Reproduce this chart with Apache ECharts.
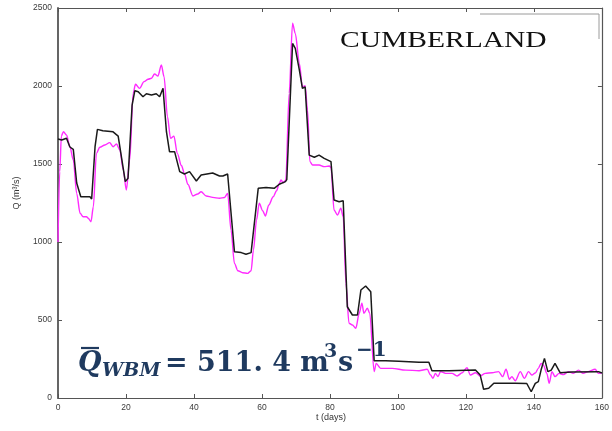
<!DOCTYPE html>
<html><head><meta charset="utf-8">
<script src="https://cdn.jsdelivr.net/npm/echarts@6/dist/echarts.min.js"></script>
<style>html,body{margin:0;padding:0;background:#fff}#c{width:612px;height:431px}</style>
</head><body><div id="c"></div>
<script>
// ---- data (t in days, Q in m3/s) ----
const tBlack = [0,1.1,2.5,3.5,4.5,5.5,6.7,9.4,9.9,10.9,11.6,13.2,16.2,17.7,18.2,19.8,20.6,21.8,22.6,23.6,25,26,27.5,28.9,29.9,30.9,31.9,32.8,34.3,35.8,37.2,38.7,40.7,42.1,45.5,47.5,48.5,49.9,51.9,53.9,55.3,56.8,58.9,61.2,63.6,65.1,66.9,67.3,69,69.8,71,71.9,72.7,73.9,75.4,76.8,78.3,80.3,81.2,82.7,83.9,85.1,86.6,88.1,89.1,90.5,92,93,96.4,100.3,106.2,109.1,110,115,122.8,124.2,125.2,126.7,128.2,134.5,137.9,139.2,140.4,141.3,142.1,143.1,144.1,145.1,146.2,147.7,151.1,159,160];
const qBlack = [1660,1654,1665,1609,1594,1378,1290,1290,1276,1611,1722,1713,1706,1679,1670,1387,1408,1878,1970,1963,1931,1950,1942,1950,1931,1985,1707,1579,1579,1451,1436,1451,1391,1430,1442,1423,1423,1436,938,932,921,932,1344,1350,1344,1370,1387,1400,2273,2241,2102,1985,1995,1557,1543,1557,1536,1515,1269,1258,1265,585,532,532,692,718,681,239,239,235,229,229,175,175,179,147,56,62,94,94,93,40,94,105,179,254,169,179,222,162,167,169,160];
const tMag = [0,0.5,1,1.6,2.5,3.5,4.5,5.5,6.5,7.4,8.4,8.9,9.7,10.4,11.3,12.3,13.8,15.2,16.2,17.2,18.2,19.2,20.1,21.1,22.1,22.8,24,25.3,26.5,27.5,28.4,29.4,30.4,31.2,32.2,33.1,34.1,35.1,36.3,37.2,38.2,39.7,41.1,42.1,43.6,45.5,47.5,49,49.9,50.9,51.9,52.9,54.3,55.8,56.8,57.5,58.4,59.2,60.2,61,62,63.3,64.3,65.1,65.6,66.3,67,68,69,69.8,71,71.9,72.7,73.4,74.1,74.9,76.8,78.3,79.8,80.3,81.2,82.2,83.2,83.9,84.7,85.6,86.6,87.6,88.6,89.4,90,91,91.7,93,93.6,94.9,98.3,102.3,106.2,108.6,109.6,110.3,111,111.8,112.5,114,115.9,117.4,118.9,120.3,121.3,122.8,124.2,125.7,127.7,129.6,130.8,131.8,132.8,133.5,134.5,136,137.2,138.4,139.4,140.4,141.3,142.1,142.8,143.8,144.5,145.3,146.2,147.4,148.7,150.1,151.6,153.1,154.5,156,158,159,160];
const qMag = [1000,1450,1680,1707,1686,1611,1526,1312,1184,1162,1162,1152,1130,1226,1568,1607,1622,1637,1611,1628,1590,1462,1333,1526,1953,2011,1985,2028,2043,2050,2077,2064,2135,2060,1803,1665,1679,1568,1490,1440,1370,1295,1308,1322,1295,1286,1280,1285,1312,1077,863,816,803,799,816,949,1141,1248,1201,1167,1237,1290,1329,1376,1397,1380,1397,1953,2402,2337,2145,1995,2002,1846,1515,1494,1494,1483,1487,1479,1205,1173,1216,1162,735,479,468,447,543,607,543,575,543,169,222,190,190,179,175,184,147,126,158,137,169,158,158,141,162,194,147,162,141,158,162,169,137,184,120,137,111,169,126,169,147,160,190,222,211,158,94,169,137,158,150,169,158,179,158,169,184,158,162];
const xTicks = [0,20,40,60,80,100,120,140,160];
const yTicks = [0,500,1000,1500,2000,2500];
const siteName = 'CUMBERLAND';
const xName = 't (days)';
const yName = 'Q (m\u00B3/s)';

const pairs = (t, q) => t.map((v, i) => [v, q[i]]);
const chart = echarts.init(document.getElementById('c'), null, {renderer: 'canvas'});
const axisCol = '#555';
const lblStyle = {color: '#3a3a3a', fontSize: 8.5, fontFamily: 'Liberation Sans, Arial, sans-serif', formatter: v => String(v)};
const navy = '#1f3a5f';
const fSerif = 'DejaVu Serif';
chart.setOption({
  animation: false,
  grid: {left: 58, right: 8, top: 8, bottom: 33},
  xAxis: [{
    type: 'value', min: xTicks[0], max: xTicks[xTicks.length-1], interval: 20,
    axisLine: {show: true, lineStyle: {color: axisCol, width: 1.2}},
    axisTick: {show: true, inside: true, length: 4, lineStyle: {color: axisCol}},
    axisLabel: Object.assign({margin: 5}, lblStyle),
    splitLine: {show: false}
  }, {
    type: 'value', position: 'top', min: 0, max: 160, interval: 20,
    axisLine: {show: true, onZero: false, lineStyle: {color: axisCol, width: 1.2}},
    axisTick: {show: true, inside: true, length: 4, lineStyle: {color: axisCol}},
    axisLabel: {show: false}, splitLine: {show: false}
  }],
  yAxis: [{
    type: 'value', min: yTicks[0], max: yTicks[yTicks.length-1], interval: 500,
    axisLine: {show: true, lineStyle: {color: axisCol, width: 1.8}},
    axisTick: {show: true, inside: true, length: 4, lineStyle: {color: axisCol}},
    axisLabel: Object.assign({margin: 6}, lblStyle),
    splitLine: {show: false}
  }, {
    type: 'value', position: 'right', min: 0, max: 2500, interval: 500,
    axisLine: {show: true, onZero: false, lineStyle: {color: axisCol, width: 1.2}},
    axisTick: {show: true, inside: true, length: 4, lineStyle: {color: axisCol}},
    axisLabel: {show: false}, splitLine: {show: false}
  }],
  series: [{
    type: 'line', data: pairs(tMag, qMag), showSymbol: false, smooth: 0.3, smoothMonotone: 'x',
    lineStyle: {color: '#ff2bff', width: 1.4}, z: 2
  }, {
    type: 'line', data: pairs(tBlack, qBlack), showSymbol: false,
    lineStyle: {color: '#1a1a1a', width: 1.5}, z: 3
  }],
  graphic: [
    {type: 'polyline', shape: {points: [[480, 14], [599, 14], [599, 39]]}, style: {stroke: '#9a9a9a', lineWidth: 1, fill: null}},
    {type: 'text', left: 340, top: 29, scaleX: 1.23, style: {text: siteName, font: '24px "Liberation Serif"', fill: '#111'}},
    {type: 'text', x: 331, y: 413, style: {text: xName, fill: '#333', font: '9px "Liberation Sans"', align: 'center', verticalAlign: 'top'}},
    {type: 'text', x: 17, y: 193, rotation: Math.PI/2, style: {text: yName, fill: '#333', font: '9px "Liberation Sans"', align: 'center', verticalAlign: 'middle'}},
    // formula
    {type: 'text', x: 78, y: 364, style: {text: 'Q', fill: navy, font: 'italic bold 27px "' + fSerif + '"', verticalAlign: 'middle'}},
    {type: 'line', shape: {x1: 81, y1: 348, x2: 99, y2: 348}, style: {stroke: navy, lineWidth: 2.2}},
    {type: 'text', x: 102, y: 371, style: {text: 'WBM', fill: navy, font: 'italic bold 19px "' + fSerif + '"', verticalAlign: 'middle'}},
    {type: 'text', x: 165, y: 364, style: {text: '= 511. 4 m', fill: navy, font: 'bold 27px "' + fSerif + '"', verticalAlign: 'middle'}},
    {type: 'text', x: 324, y: 352, style: {text: '3', fill: navy, font: 'bold 19px "' + fSerif + '"', verticalAlign: 'middle'}},
    {type: 'text', x: 338, y: 364, style: {text: 's', fill: navy, font: 'bold 27px "' + fSerif + '"', verticalAlign: 'middle'}},
    {type: 'text', x: 356, y: 351, style: {text: '\u22121', fill: navy, font: 'bold 20px "' + fSerif + '"', verticalAlign: 'middle'}}
  ]
});
</script></body></html>
